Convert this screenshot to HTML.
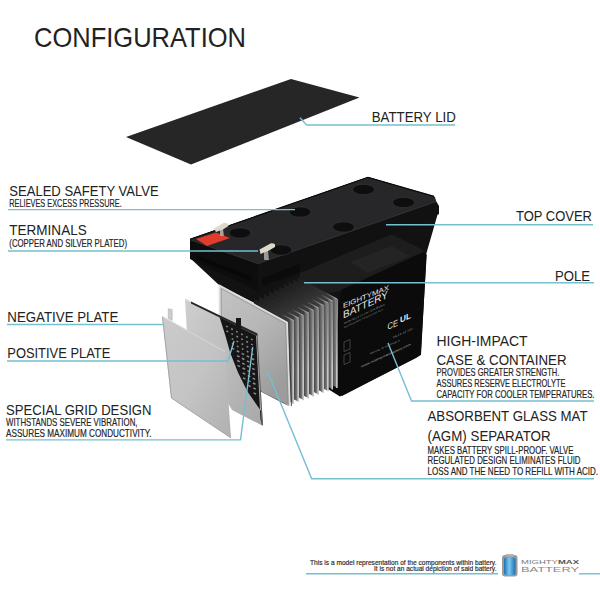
<!DOCTYPE html>
<html><head><meta charset="utf-8">
<style>
html,body{margin:0;padding:0;background:#fff;width:600px;height:600px;overflow:hidden}
svg{display:block}
text{font-family:"Liberation Sans",sans-serif;fill:#222}
.w{fill:#e8e8e8}
</style></head>
<body>
<svg width="600" height="600" viewBox="0 0 600 600">
<defs>
<linearGradient id="gNeg" x1="0" y1="0" x2="1" y2="1">
<stop offset="0" stop-color="#cbcbcb"/><stop offset="0.5" stop-color="#c4c4c4"/><stop offset="1" stop-color="#b0b0b0"/>
</linearGradient>
<linearGradient id="gPos" x1="0" y1="0" x2="1" y2="1">
<stop offset="0" stop-color="#cfcfcf"/><stop offset="1" stop-color="#a8a8a8"/>
</linearGradient>
<linearGradient id="gStack" x1="0" y1="0" x2="0.6" y2="1">
<stop offset="0" stop-color="#c4c4c4"/><stop offset="0.5" stop-color="#b6b6b6"/><stop offset="1" stop-color="#9c9c9c"/>
</linearGradient>
<linearGradient id="gVl" gradientUnits="userSpaceOnUse" x1="0" y1="295" x2="0" y2="370">
<stop offset="0" stop-color="#707070"/><stop offset="1" stop-color="#cdcdcd"/>
</linearGradient>
<linearGradient id="gTop" x1="0" y1="0" x2="1" y2="0">
<stop offset="0" stop-color="#1a1a1a"/><stop offset="0.7" stop-color="#333"/><stop offset="1" stop-color="#b0b0b0"/>
</linearGradient>
<linearGradient id="gSl" x1="0" y1="0" x2="1" y2="0">
<stop offset="0" stop-color="#1e1e1e"/><stop offset="0.86" stop-color="#3c3c3c"/><stop offset="1" stop-color="#9c9c9c"/>
</linearGradient>
</defs>
<rect width="600" height="600" fill="#fff"/>

<text x="34" y="47" font-size="28" textLength="212.0" lengthAdjust="spacingAndGlyphs">CONFIGURATION</text>

<!-- lid -->
<polygon points="126,137 291,79 359.5,97.5 191,164.5" fill="#262626"/>

<!-- battery body background -->
<polygon points="190,239 368,177 435,197 438,213 426.5,253 421,355 342,396 338,392 337.5,299 290,321 219,285 190,258" fill="#121212"/>
<!-- case top face -->
<polygon points="391,234 421,248.7 427,256 340,291 300,300 300,270" fill="#1d1d1d"/>
<polygon points="350,262 392,246 410,256 368,273" fill="#242424"/>
<!-- case front face -->
<path d="M341,290 L421,253 Q427,251 426.5,258 L421,350 Q420.5,356 416,358 L340,396.5 L328,389 L330,380 Z" fill="#0b0b0b"/>

<!-- case label -->
<g transform="matrix(1,-0.41,0,1,0,0)" style="fill:#d6d6d6">
<text x="343" y="449" font-size="7" textLength="46" lengthAdjust="spacingAndGlyphs" class="w">EIGHTYMAX</text>
</g>
<g transform="matrix(1,-0.47,0,1,0,0)">
<text x="343" y="480" font-size="10.5" textLength="45" lengthAdjust="spacingAndGlyphs" class="w">BATTERY</text>
<text x="344" y="486" font-size="2.6" textLength="41" lengthAdjust="spacingAndGlyphs" style="fill:#9a9a9a">Model ML12-12 12V 12Ah Battery</text>
<text x="344" y="490" font-size="2.4" textLength="39" lengthAdjust="spacingAndGlyphs" style="fill:#8a8a8a">Rechargeable Sealed Lead Acid</text>
</g>
<g transform="matrix(1,-0.45,0,1,0,0)">
<text x="387.5" y="504.5" font-size="9" textLength="10.5" lengthAdjust="spacingAndGlyphs" class="w">CE</text>
<text x="400" y="503" font-size="8.5" textLength="11" lengthAdjust="spacingAndGlyphs" class="w" font-weight="bold">UL</text>
<text x="393" y="515" font-size="2.5" textLength="20" lengthAdjust="spacingAndGlyphs" style="fill:#999">ML12-12 12V</text>
<text x="370" y="521" font-size="2.5" textLength="30" lengthAdjust="spacingAndGlyphs" style="fill:#999">Warning: do not charge in</text>
<text x="361" y="530" font-size="2.8" textLength="50" lengthAdjust="spacingAndGlyphs" style="fill:#bbb">www.mightymaxbattery.com</text>
</g>
<g fill="none" stroke="#666" stroke-width="0.6">
<polygon points="344,342 350,339.5 350,349 344,351.5"/>
<polygon points="344,355 350,352.5 350,362 344,364.5"/>
</g>

<!-- plate stack slices -->
<polygon points="297.5,277.8 337.5,299.0 337.5,387.9 297.5,367.1" fill="url(#gSl)"/>
<polyline points="297.5,277.8 336.8,299.0" stroke="url(#gTop)" stroke-width="1.2" fill="none"/>
<line x1="336.8" y1="299.0" x2="336.8" y2="387.9" stroke="url(#gVl)" stroke-width="1.4"/>
<polygon points="293.0,279.8 333.0,301.0 333.0,389.5 293.0,368.7" fill="url(#gSl)"/>
<polyline points="293.0,279.8 332.3,301.0" stroke="url(#gTop)" stroke-width="1.2" fill="none"/>
<line x1="332.2" y1="301.0" x2="332.2" y2="389.5" stroke="url(#gVl)" stroke-width="1.4"/>
<polygon points="288.5,281.8 328.5,303.0 328.5,391.2 288.5,370.4" fill="url(#gSl)"/>
<polyline points="288.5,281.8 327.8,303.0" stroke="url(#gTop)" stroke-width="1.2" fill="none"/>
<line x1="327.8" y1="303.0" x2="327.8" y2="391.2" stroke="url(#gVl)" stroke-width="1.4"/>
<polygon points="284.0,284.3 324.0,305.5 324.0,392.9 284.0,372.1" fill="url(#gSl)"/>
<polyline points="284.0,284.3 323.3,305.5" stroke="url(#gTop)" stroke-width="1.2" fill="none"/>
<line x1="323.2" y1="305.5" x2="323.2" y2="392.9" stroke="url(#gVl)" stroke-width="1.4"/>
<polygon points="279.0,286.8 319.0,308.0 319.0,394.7 279.0,373.9" fill="url(#gSl)"/>
<polyline points="279.0,286.8 318.3,308.0" stroke="url(#gTop)" stroke-width="1.2" fill="none"/>
<line x1="318.2" y1="308.0" x2="318.2" y2="394.7" stroke="url(#gVl)" stroke-width="1.4"/>
<polygon points="274.0,289.3 314.0,310.5 314.0,396.6 274.0,375.8" fill="url(#gSl)"/>
<polyline points="274.0,289.3 313.3,310.5" stroke="url(#gTop)" stroke-width="1.2" fill="none"/>
<line x1="313.2" y1="310.5" x2="313.2" y2="396.6" stroke="url(#gVl)" stroke-width="1.4"/>
<polygon points="269.0,291.8 309.0,313.0 309.0,398.4 269.0,377.6" fill="url(#gSl)"/>
<polyline points="269.0,291.8 308.3,313.0" stroke="url(#gTop)" stroke-width="1.2" fill="none"/>
<line x1="308.2" y1="313.0" x2="308.2" y2="398.4" stroke="url(#gVl)" stroke-width="1.4"/>
<polygon points="264.0,294.3 304.0,315.5 304.0,400.3 264.0,379.5" fill="url(#gSl)"/>
<polyline points="264.0,294.3 303.3,315.5" stroke="url(#gTop)" stroke-width="1.2" fill="none"/>
<line x1="303.2" y1="315.5" x2="303.2" y2="400.3" stroke="url(#gVl)" stroke-width="1.4"/>
<polygon points="259.0,296.8 299.0,318.0 299.0,402.1 259.0,381.3" fill="url(#gSl)"/>
<polyline points="259.0,296.8 298.3,318.0" stroke="url(#gTop)" stroke-width="1.2" fill="none"/>
<line x1="298.2" y1="318.0" x2="298.2" y2="402.1" stroke="url(#gVl)" stroke-width="1.4"/>
<polygon points="254.0,299.3 294.0,320.5 294.0,404.0 254.0,383.2" fill="url(#gSl)"/>
<polyline points="254.0,299.3 293.3,320.5" stroke="url(#gTop)" stroke-width="1.2" fill="none"/>
<line x1="293.2" y1="320.5" x2="293.2" y2="404.0" stroke="url(#gVl)" stroke-width="1.4"/>
<polygon points="248.5,301.8 288.5,323.0 288.5,406.0 248.5,385.2" fill="url(#gSl)"/>
<polyline points="248.5,301.8 287.8,323.0" stroke="url(#gTop)" stroke-width="1.2" fill="none"/>
<line x1="287.8" y1="323.0" x2="287.8" y2="406.0" stroke="url(#gVl)" stroke-width="1.4"/>
<!-- front stack plate -->
<polygon points="219,285 287,322 290,406 262,392 221,340" fill="url(#gStack)"/>
<polyline points="220,340 219.5,285.5 287,322.5 289.8,406" stroke="#dedede" stroke-width="1.8" fill="none"/><polyline points="221.5,340 221.2,288.5 285.5,323.5 288,404" stroke="#8a8a8a" stroke-width="0.6" fill="none"/>
<polyline points="287,322 290,406" stroke="#333" stroke-width="0.8" fill="none" transform="translate(1.5,0)"/>

<!-- cover -->
<polygon points="190,239 258,263 258,291 190,259" fill="#0d0d0d"/>
<polygon points="258,263 436,201 439,206 439,214 258,291" fill="#111112"/>
<polygon points="190,239 368,177 434,196 436,201 258,263" fill="#27272a"/>
<polyline points="190,239.3 368,177.3 434,196.3" stroke="#0c0c0c" stroke-width="1.2" fill="none"/>
<polyline points="191,240 258,263.5 436,201.5" stroke="#38383b" stroke-width="1" fill="none"/>
<polygon points="196,255 252,277 252,281 196,259" fill="#080808"/>
<polygon points="262,278 300,264 300,272 262,286" fill="#0b0b0b"/>
<!-- holes -->
<ellipse cx="363.5" cy="189.5" rx="11" ry="5.2" fill="#0e0e0e" stroke="#363638" stroke-width="0.7"/>
<ellipse cx="403.5" cy="202.5" rx="11" ry="5.2" fill="#0e0e0e" stroke="#363638" stroke-width="0.7"/>
<ellipse cx="300" cy="212" rx="11" ry="5.2" fill="#0e0e0e" stroke="#363638" stroke-width="0.7"/>
<ellipse cx="343.5" cy="227" rx="11" ry="5.2" fill="#0e0e0e" stroke="#363638" stroke-width="0.7"/>
<ellipse cx="240" cy="233" rx="11" ry="5.2" fill="#0e0e0e" stroke="#363638" stroke-width="0.7"/>
<ellipse cx="281" cy="250" rx="11" ry="5.2" fill="#0e0e0e" stroke="#363638" stroke-width="0.7"/>
<!-- red terminal -->
<polygon points="196,239 216,232.5 230,238 207,246" fill="#e03c2e"/>
<!-- silver clips -->
<path d="M214,228.5 L223.5,223 Q226,222.5 228,223.8 L228.5,226 L223,229.5 L223.5,236 L220.5,236 L220,230.5 L216,232 Z" fill="#dcd8cc"/>
<path d="M220,230.5 L223,229.5 L223.5,236 L220.5,236 Z" fill="#a9a498"/>
<path d="M259.5,249.5 L270.5,243.5 Q273,243 275,244.3 L275,247 L268,251 L268.5,260 L264.5,260 L264,252.5 L260.5,254 Z" fill="#dcd8cc"/>
<path d="M264,252.5 L268,251 L268.5,260 L264.5,260 Z" fill="#9d988c"/>

<!-- positive plate -->
<polygon points="185,299 257,334 263,426 232,410 187,333" fill="url(#gPos)"/>
<path d="M219.5,317 L256,335.5 L260.5,419 L262,426 L261,411 L247.6,391.7 L238,372.5 L230.3,353 L225.5,336 Z" fill="#161616"/>
<polyline points="257,335 262.5,425" stroke="#444" stroke-width="0.8" fill="none"/>
<polygon points="191,301.5 257.5,333.5 257.5,336 191,303.5" fill="#262626"/><polyline points="185,299 191,302" stroke="#dedede" stroke-width="1.2" fill="none"/>
<rect x="236" y="318" width="5" height="10" fill="#161616"/>
<g fill="#8d8d8d">
<rect x="226.1" y="325.8" width="1.8" height="1.5" transform="rotate(26 227.0 326.5)"/>
<rect x="231.1" y="328.4" width="1.8" height="1.5" transform="rotate(26 232.0 329.1)"/>
<rect x="236.0" y="331.0" width="1.8" height="1.5" transform="rotate(26 236.9 331.7)"/>
<rect x="241.0" y="333.6" width="1.8" height="1.5" transform="rotate(26 241.9 334.3)"/>
<rect x="245.9" y="336.2" width="1.8" height="1.5" transform="rotate(26 246.8 337.0)"/>
<rect x="250.9" y="338.8" width="1.8" height="1.5" transform="rotate(26 251.8 339.6)"/>
<rect x="226.4" y="330.6" width="1.8" height="1.5" transform="rotate(26 227.3 331.4)"/>
<rect x="231.3" y="333.3" width="1.8" height="1.5" transform="rotate(26 232.2 334.0)"/>
<rect x="236.3" y="335.9" width="1.8" height="1.5" transform="rotate(26 237.2 336.6)"/>
<rect x="241.2" y="338.5" width="1.8" height="1.5" transform="rotate(26 242.1 339.2)"/>
<rect x="246.2" y="341.1" width="1.8" height="1.5" transform="rotate(26 247.1 341.9)"/>
<rect x="251.1" y="343.7" width="1.8" height="1.5" transform="rotate(26 252.0 344.5)"/>
<rect x="231.6" y="338.2" width="1.8" height="1.5" transform="rotate(26 232.5 338.9)"/>
<rect x="236.5" y="340.8" width="1.8" height="1.5" transform="rotate(26 237.4 341.5)"/>
<rect x="241.5" y="343.4" width="1.8" height="1.5" transform="rotate(26 242.4 344.1)"/>
<rect x="246.5" y="346.0" width="1.8" height="1.5" transform="rotate(26 247.4 346.8)"/>
<rect x="251.4" y="348.6" width="1.8" height="1.5" transform="rotate(26 252.3 349.4)"/>
<rect x="231.9" y="343.1" width="1.8" height="1.5" transform="rotate(26 232.8 343.8)"/>
<rect x="236.8" y="345.7" width="1.8" height="1.5" transform="rotate(26 237.7 346.4)"/>
<rect x="241.8" y="348.3" width="1.8" height="1.5" transform="rotate(26 242.7 349.0)"/>
<rect x="246.7" y="350.9" width="1.8" height="1.5" transform="rotate(26 247.6 351.7)"/>
<rect x="251.7" y="353.5" width="1.8" height="1.5" transform="rotate(26 252.6 354.3)"/>
<rect x="231.6" y="348.0" width="2.8" height="1.5" transform="rotate(26 233.0 348.7)"/>
<rect x="236.6" y="350.6" width="2.8" height="1.5" transform="rotate(26 238.0 351.3)"/>
<rect x="241.5" y="353.2" width="2.8" height="1.5" transform="rotate(26 242.9 353.9)"/>
<rect x="246.5" y="355.8" width="2.8" height="1.5" transform="rotate(26 247.9 356.6)"/>
<rect x="251.5" y="358.4" width="2.8" height="1.5" transform="rotate(26 252.9 359.2)"/>
<rect x="236.9" y="355.5" width="2.8" height="1.5" transform="rotate(26 238.3 356.2)"/>
<rect x="241.8" y="358.1" width="2.8" height="1.5" transform="rotate(26 243.2 358.8)"/>
<rect x="246.8" y="360.7" width="2.8" height="1.5" transform="rotate(26 248.2 361.5)"/>
<rect x="251.7" y="363.3" width="2.8" height="1.5" transform="rotate(26 253.1 364.1)"/>
<rect x="237.1" y="360.4" width="2.8" height="1.5" transform="rotate(26 238.5 361.1)"/>
<rect x="242.1" y="363.0" width="2.8" height="1.5" transform="rotate(26 243.5 363.7)"/>
<rect x="247.0" y="365.6" width="2.8" height="1.5" transform="rotate(26 248.4 366.4)"/>
<rect x="252.0" y="368.2" width="2.8" height="1.5" transform="rotate(26 253.4 369.0)"/>
<rect x="237.4" y="365.3" width="2.8" height="1.5" transform="rotate(26 238.8 366.0)"/>
<rect x="242.4" y="367.9" width="2.8" height="1.5" transform="rotate(26 243.8 368.6)"/>
<rect x="247.3" y="370.5" width="2.8" height="1.5" transform="rotate(26 248.7 371.3)"/>
<rect x="252.3" y="373.1" width="2.8" height="1.5" transform="rotate(26 253.7 373.9)"/>
<rect x="242.6" y="372.8" width="2.8" height="1.5" transform="rotate(26 244.0 373.5)"/>
<rect x="247.6" y="375.4" width="2.8" height="1.5" transform="rotate(26 249.0 376.2)"/>
<rect x="252.5" y="378.0" width="2.8" height="1.5" transform="rotate(26 253.9 378.8)"/>
<rect x="242.9" y="377.7" width="2.8" height="1.5" transform="rotate(26 244.3 378.4)"/>
<rect x="247.9" y="380.3" width="2.8" height="1.5" transform="rotate(26 249.3 381.1)"/>
<rect x="252.8" y="382.9" width="2.8" height="1.5" transform="rotate(26 254.2 383.7)"/>
<rect x="248.1" y="385.2" width="2.8" height="1.5" transform="rotate(26 249.5 386.0)"/>
<rect x="253.1" y="387.8" width="2.8" height="1.5" transform="rotate(26 254.5 388.6)"/>
<rect x="253.4" y="392.7" width="2.8" height="1.5" transform="rotate(26 254.8 393.5)"/>
</g>

<!-- negative plate -->
<polygon points="162,316 225,351 231,438 171,398" fill="url(#gNeg)"/>
<polyline points="162,316.5 225,351.5" stroke="#d8d8d8" stroke-width="0.9" fill="none"/><polyline points="162.5,317 171.5,398 231,438" stroke="#9a9a9a" stroke-width="0.8" fill="none"/>
<polygon points="168.2,308.7 172.2,309.5 172.2,320.5 168.2,318.5" fill="#cdcdcd" stroke="#aaa" stroke-width="0.5"/>

<!-- leader lines -->
<g stroke="#74bfd0" stroke-width="1.4" fill="none">
<polyline points="300,117.7 306.7,125 455,125"/>
<polyline points="8,209.6 295,209.6"/>
<polyline points="8,251 258,251"/>
<polyline points="386,224.8 593,224.8"/>
<polyline points="304,282.8 594,282.8"/>
<polyline points="7,324.5 164,324.5"/>
<polyline points="7,361 228,361 234,341"/>
<polyline points="6,439.9 240.5,439.9 252.7,347"/>
<polyline points="388,343 411.5,401 594,401"/>
<polyline points="267.4,371 311.7,478.7 594,478.7"/>
<polyline points="306,573.8 498,573.8"/>
<polyline points="579,573.8 600,573.8"/>
</g>

<!-- labels -->
<text x="371.7" y="121.7" font-size="15.3" textLength="84.1" lengthAdjust="spacingAndGlyphs">BATTERY LID</text>
<text x="9.3" y="195.7" font-size="15.3" textLength="149.4" lengthAdjust="spacingAndGlyphs">SEALED SAFETY VALVE</text>
<text x="9.3" y="206.7" font-size="10.1" stroke="#2a2a2a" stroke-width="0.18" textLength="112.4" lengthAdjust="spacingAndGlyphs">RELIEVES EXCESS PRESSURE.</text>
<text x="9.3" y="235" font-size="15.3" textLength="77.4" lengthAdjust="spacingAndGlyphs">TERMINALS</text>
<text x="9.3" y="247.3" font-size="10.1" stroke="#2a2a2a" stroke-width="0.18" textLength="117.7" lengthAdjust="spacingAndGlyphs">(COPPER AND SILVER PLATED)</text>
<text x="516" y="221" font-size="15.3" textLength="76.0" lengthAdjust="spacingAndGlyphs">TOP COVER</text>
<text x="555" y="280.7" font-size="15.3" textLength="35.0" lengthAdjust="spacingAndGlyphs">POLE</text>
<text x="7.3" y="322.3" font-size="15.3" textLength="111.0" lengthAdjust="spacingAndGlyphs">NEGATIVE PLATE</text>
<text x="7.3" y="358.4" font-size="15.3" textLength="103.0" lengthAdjust="spacingAndGlyphs">POSITIVE PLATE</text>
<text x="6" y="414.8" font-size="15.3" textLength="145.5" lengthAdjust="spacingAndGlyphs">SPECIAL GRID DESIGN</text>
<text x="6" y="425.8" font-size="10.1" stroke="#2a2a2a" stroke-width="0.18" textLength="131.5" lengthAdjust="spacingAndGlyphs">WITHSTANDS SEVERE VIBRATION,</text>
<text x="6" y="437" font-size="10.1" stroke="#2a2a2a" stroke-width="0.18" textLength="145.5" lengthAdjust="spacingAndGlyphs">ASSURES MAXIMUM CONDUCTIVITY.</text>
<text x="436.5" y="346" font-size="15.3" textLength="91.1" lengthAdjust="spacingAndGlyphs">HIGH-IMPACT</text>
<text x="436.5" y="365" font-size="15.3" textLength="130.0" lengthAdjust="spacingAndGlyphs">CASE &amp; CONTAINER</text>
<text x="436.5" y="376" font-size="10.1" stroke="#2a2a2a" stroke-width="0.18" textLength="122.9" lengthAdjust="spacingAndGlyphs">PROVIDES GREATER STRENGTH.</text>
<text x="436.5" y="386.5" font-size="10.1" stroke="#2a2a2a" stroke-width="0.18" textLength="129.0" lengthAdjust="spacingAndGlyphs">ASSURES RESERVE ELECTROLYTE</text>
<text x="436.5" y="397.6" font-size="10.1" stroke="#2a2a2a" stroke-width="0.18" textLength="158.0" lengthAdjust="spacingAndGlyphs">CAPACITY FOR COOLER TEMPERATURES.</text>
<text x="427.5" y="421.4" font-size="15.3" textLength="160.0" lengthAdjust="spacingAndGlyphs">ABSORBENT GLASS MAT</text>
<text x="427.5" y="440.5" font-size="15.3" textLength="123.1" lengthAdjust="spacingAndGlyphs">(AGM) SEPARATOR</text>
<text x="427.5" y="453.5" font-size="10.1" stroke="#2a2a2a" stroke-width="0.18" textLength="146.0" lengthAdjust="spacingAndGlyphs">MAKES BATTERY SPILL-PROOF. VALVE</text>
<text x="427.5" y="464" font-size="10.1" stroke="#2a2a2a" stroke-width="0.18" textLength="153.0" lengthAdjust="spacingAndGlyphs">REGULATED DESIGN ELIMINATES FLUID</text>
<text x="427.5" y="474.5" font-size="10.1" stroke="#2a2a2a" stroke-width="0.18" textLength="170.5" lengthAdjust="spacingAndGlyphs">LOSS AND THE NEED TO REFILL WITH ACID.</text>

<!-- footer -->
<text x="310" y="565" font-size="6.3" stroke="#333" stroke-width="0.15" textLength="186.5" lengthAdjust="spacingAndGlyphs">This is a model representation of the components within battery.</text>
<text x="374" y="571" font-size="6.3" stroke="#333" stroke-width="0.15" textLength="122.5" lengthAdjust="spacingAndGlyphs">It is not an actual depiction of said battery.</text>
<defs><linearGradient id="gBlue" x1="0" y1="0" x2="1" y2="0">
<stop offset="0" stop-color="#1f6fb0"/><stop offset="0.45" stop-color="#7cc8f0"/><stop offset="1" stop-color="#1f6fb0"/>
</linearGradient></defs>
<rect x="502" y="555" width="15.5" height="21.5" rx="3" fill="#9a9a9a"/>
<rect x="504" y="557.5" width="11.5" height="17.5" rx="2" fill="url(#gBlue)"/>
<rect x="506" y="554" width="7.5" height="2.5" fill="#b5b5b5"/>
<text x="521" y="564.2" font-size="5.6" textLength="58" lengthAdjust="spacingAndGlyphs" style="fill:#7a7a7a">MIGHTY<tspan style="fill:#555" font-weight="bold">MAX</tspan></text>
<text x="521" y="571.5" font-size="7.2" textLength="58" lengthAdjust="spacingAndGlyphs" style="fill:#8a8a8a">BATTERY</text>
</svg>
</body></html>
